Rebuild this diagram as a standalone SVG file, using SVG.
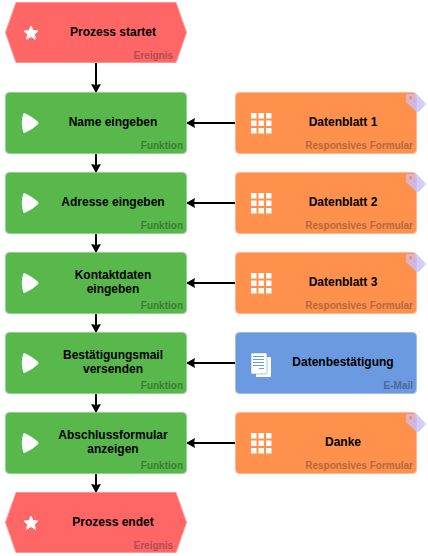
<svg xmlns="http://www.w3.org/2000/svg" width="428" height="556" viewBox="0 0 428 556">
<style>
text{font-family:"Liberation Sans",Arial,sans-serif;font-weight:700}
.t{font-size:12px;fill:#000;text-anchor:middle}
.s{font-size:10px;text-anchor:end}
.g{fill:#58b84c;stroke:#8fd488;stroke-width:1}
.o{fill:#ff914d;stroke:#ffb88c;stroke-width:1}
.b{fill:#6b9ae0;stroke:#9dbcec;stroke-width:1}
.r{fill:#ff6666;stroke:#ff9494;stroke-width:1}
.sg{fill:#3b7f33}.so{fill:#b5693f}.sb{fill:#4d6a9b}.sr{fill:#b04e54}
.w{fill:#fff}
.c{stroke:#000;stroke-width:2;fill:none}
.tag{fill:#c8c0ff;fill-opacity:.8}
.hole{fill:#ff914d}
</style>
<defs>
<path id="star" class="w" stroke="#fff" stroke-width="1" stroke-linejoin="round" d="M0,-7L2,-2.400L7,-1.900L3.300,1.300L4.400,6.200L0,3.600L-4.400,6.200L-3.300,1.300L-7,-1.900L-2,-2.400Z"/>
<path id="play" class="w" d="M-8,-8.500Q-8,-10.500 -5.500,-9.500Q2,-6 7,-1.200Q8.200,0 7,1.200Q2,6 -5.500,9.500Q-8,10.500 -8,8.500Q-10.300,0 -8,-8.500Z"/>
<g id="grid" class="w"><rect x="0" y="0" width="5.500" height="5.500"/><rect x="7.500" y="0" width="5.500" height="5.500"/><rect x="15" y="0" width="5.500" height="5.500"/><rect x="0" y="7.500" width="5.500" height="5.500"/><rect x="7.500" y="7.500" width="5.500" height="5.500"/><rect x="15" y="7.500" width="5.500" height="5.500"/><rect x="0" y="15" width="5.500" height="5.500"/><rect x="7.500" y="15" width="5.500" height="5.500"/><rect x="15" y="15" width="5.500" height="5.500"/></g>
<g id="tagshape"><path class="tag" d="M406,94H417L426,104L418,113L406,102Z"/><rect class="hole" x="409.500" y="96" width="2.500" height="3.500"/></g>
<marker id="ad" markerUnits="userSpaceOnUse" markerWidth="10" markerHeight="11" refX="9" refY="5.500" orient="auto"><path d="M0,0.500L9,5.500L0,10.500L1,5.500Z" fill="#000"/></marker>
</defs>
<g id="connectors">
<path class="c" marker-end="url(#ad)" d="M96,63V93"/>
<path class="c" marker-end="url(#ad)" d="M96,153V173"/>
<path class="c" marker-end="url(#ad)" d="M96,233V253"/>
<path class="c" marker-end="url(#ad)" d="M96,313V333"/>
<path class="c" marker-end="url(#ad)" d="M96,393V413"/>
<path class="c" marker-end="url(#ad)" d="M96,473V493"/>
<path class="c" marker-end="url(#ad)" d="M236,123H186"/>
<path class="c" marker-end="url(#ad)" d="M236,203H186"/>
<path class="c" marker-end="url(#ad)" d="M236,283H186"/>
<path class="c" marker-end="url(#ad)" d="M236,363H186"/>
<path class="c" marker-end="url(#ad)" d="M236,443H186"/>
</g>
<g id="start"><polygon class="r" points="16,2.500 176,2.500 186.500,32.500 176,62.500 16,62.500 5.500,32.500"/><use href="#star" x="31" y="33"/><text class="t" x="113" y="36">Prozess startet</text><text class="s sr" x="173" y="59">Ereignis</text></g>
<g id="f1"><rect class="g" x="5.500" y="92.500" width="181" height="61" rx="4"/><use href="#play" x="31" y="123"/><text class="t" x="113" y="126">Name eingeben</text><text class="s sg" x="183" y="149">Funktion</text></g>
<g id="f2"><rect class="g" x="5.500" y="172.500" width="181" height="61" rx="4"/><use href="#play" x="31" y="203"/><text class="t" x="113" y="206">Adresse eingeben</text><text class="s sg" x="183" y="229">Funktion</text></g>
<g id="f3"><rect class="g" x="5.500" y="252.500" width="181" height="61" rx="4"/><use href="#play" x="31" y="283"/><text class="t" x="113" y="279">Kontaktdaten</text><text class="t" x="113" y="293">eingeben</text><text class="s sg" x="183" y="309">Funktion</text></g>
<g id="f4"><rect class="g" x="5.500" y="332.500" width="181" height="61" rx="4"/><use href="#play" x="31" y="363"/><text class="t" x="113" y="359">Bestätigungsmail</text><text class="t" x="113" y="373">versenden</text><text class="s sg" x="183" y="389">Funktion</text></g>
<g id="f5"><rect class="g" x="5.500" y="412.500" width="181" height="61" rx="4"/><use href="#play" x="31" y="443"/><text class="t" x="113" y="439">Abschlussformular</text><text class="t" x="113" y="453">anzeigen</text><text class="s sg" x="183" y="469">Funktion</text></g>
<g id="d1"><rect class="o" x="235.500" y="92.500" width="181" height="61" rx="4"/><use href="#tagshape"/><use href="#grid" x="251" y="113"/><text class="t" x="343" y="126">Datenblatt 1</text><text class="s so" x="413" y="149">Responsives Formular</text></g>
<g id="d2"><rect class="o" x="235.500" y="172.500" width="181" height="61" rx="4"/><use href="#tagshape" y="80"/><use href="#grid" x="251" y="193"/><text class="t" x="343" y="206">Datenblatt 2</text><text class="s so" x="413" y="229">Responsives Formular</text></g>
<g id="d3"><rect class="o" x="235.500" y="252.500" width="181" height="61" rx="4"/><use href="#tagshape" y="160"/><use href="#grid" x="251" y="273"/><text class="t" x="343" y="286">Datenblatt 3</text><text class="s so" x="413" y="309">Responsives Formular</text></g>
<g id="mail"><rect class="b" x="235.500" y="332.500" width="181" height="61" rx="4"/><rect class="w" x="256" y="357" width="15" height="20" rx="1"/><rect class="w" x="251" y="353" width="16" height="21" rx="1" stroke="#6b9ae0" stroke-width=".6"/><path d="M253,356.500h11M253,359.500h11M253,362.500h11M253,365.500h11M259,368.500h5" stroke="#6b9ae0" fill="none"/><text class="t" x="343" y="366">Datenbestätigung</text><text class="s sb" x="413" y="389">E-Mail</text></g>
<g id="d5"><rect class="o" x="235.500" y="412.500" width="181" height="61" rx="4"/><use href="#tagshape" y="320"/><use href="#grid" x="251" y="433"/><text class="t" x="343" y="446">Danke</text><text class="s so" x="413" y="469">Responsives Formular</text></g>
<g id="end"><polygon class="r" points="16,492.500 176,492.500 186.500,522.500 176,552.500 16,552.500 5.500,522.500"/><use href="#star" x="31" y="523"/><text class="t" x="113" y="526">Prozess endet</text><text class="s sr" x="173" y="549">Ereignis</text></g>
</svg>
